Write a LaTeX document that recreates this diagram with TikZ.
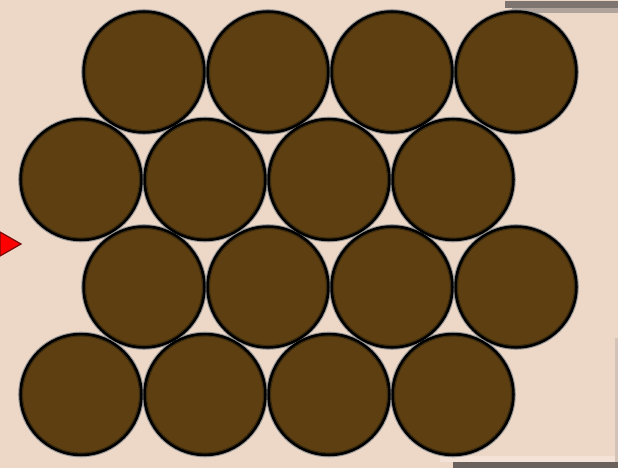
\documentclass[tikz,border=0pt]{standalone}
\definecolor{bg}{HTML}{EDD7C7}
\definecolor{ball}{HTML}{5E3F12}
\definecolor{bandDark}{HTML}{7E7470}
\definecolor{bandLight}{HTML}{AFA39B}
\definecolor{bandLow}{HTML}{6B615C}
\definecolor{edgeLight}{HTML}{F4E2D6}
\definecolor{sideGray}{HTML}{D2C2B8}
\definecolor{arrowDark}{HTML}{7A0A0A}
\definecolor{innerDark}{HTML}{3A2A0E}
\begin{document}
\begin{tikzpicture}[x=1pt,y=-1pt,
  ballstyle/.style={circle, draw=black, line width=3pt, fill=ball,
    minimum size=120.5pt, inner sep=0pt, outer sep=0pt},
  halo/.style={circle, draw=black!40, line width=1.6pt, minimum size=124pt,
    inner sep=0pt, outer sep=0pt},
  rim/.style={circle, draw=innerDark, line width=1.2pt, minimum size=117pt,
    inner sep=0pt, outer sep=0pt}]
\fill[bg] (0,0) rectangle (618,468);
\useasboundingbox (0,0) rectangle (618,468);
% frame pieces
\fill[bandDark] (505,1) rectangle (618,8);
\fill[bandLight] (512,8) rectangle (618,13);
\fill[edgeLight] (440,456) rectangle (618,462);
\fill[bandLow] (453,462) rectangle (618,468);
\fill[sideGray] (615,338) rectangle (618,462);
% balls
\foreach \r/\y/\x in {1/72/144, 2/179.5/81, 3/287/144, 4/394.5/81}{
  \foreach \c in {0,1,2,3}{
    \node[halo] at ({\x+124*\c},\y) {};
  }
}
\foreach \r/\y/\x in {1/72/144, 2/179.5/81, 3/287/144, 4/394.5/81}{
  \foreach \c in {0,1,2,3}{
    \node[ballstyle] (b\r\c) at ({\x+124*\c},\y) {};
    \node[rim] at (b\r\c) {};
  }
}
% red arrow
\coordinate (a1) at (0,232);
\coordinate (a2) at (21,244);
\coordinate (a3) at (0,256);
\filldraw[fill=red, draw=arrowDark, line width=1.2pt] (a1) -- (a2) -- (a3) -- cycle;
\end{tikzpicture}
\end{document}
